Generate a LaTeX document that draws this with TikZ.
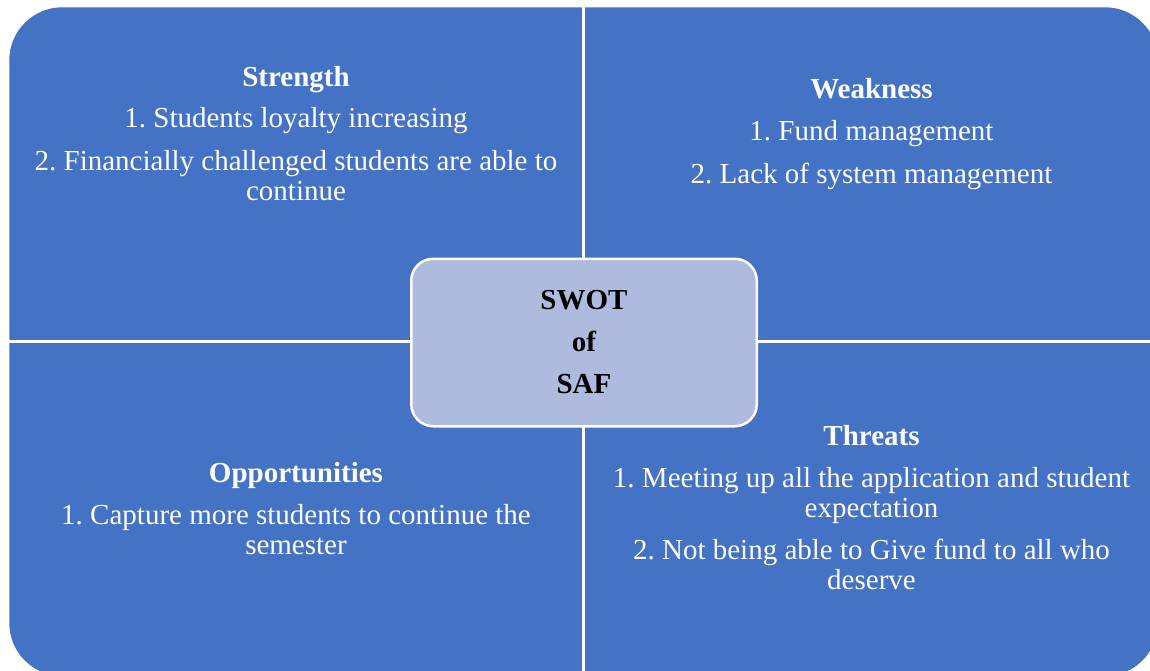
\documentclass[tikz,border=0pt]{standalone}
\usepackage{fontspec}
\setmainfont{Liberation Serif}
\definecolor{swotblue}{RGB}{68,114,196}
\definecolor{swotcenter}{RGB}{174,186,222}
\frenchspacing

\begin{document}
\begin{tikzpicture}[x=1pt,y=-1pt,frame_node/.style={rectangle,fill=swotblue,rounded corners=53pt,minimum width=1148.7pt,minimum height=668.7pt,inner sep=0pt},center_node/.style={rectangle,fill=swotcenter,draw=white,line width=2.5pt,rounded corners=22pt,minimum width=345.5pt,minimum height=167.5pt,inner sep=0pt,align=center,font=\fontsize{29}{42}\selectfont\bfseries},text_node/.style={anchor=north,align=center,text=white,inner sep=0pt,font=\fontsize{29}{30}\selectfont},split_line/.style={draw=white,line width=2.7pt}]
		
		\useasboundingbox (0,0) rectangle (1150,671);
		
		\node[frame_node] (frame) at (583.65,341.65) {};
		
		\draw[split_line] (frame.north) -- (frame.south);
		\draw[split_line] (frame.west) -- (frame.east);
		
		\node[center_node] (swot) at (584,342.5) {SWOT\\of\\SAF};
		
		\node[text_node] (strength) at (296,66.5) {\textbf{Strength}\\[11pt]1. Students loyalty increasing\\[13pt]2. Financially challenged students are able to\\continue};
		\node[text_node] (weakness) at (871.5,78.5) {\textbf{Weakness}\\[12pt]1. Fund management\\[13pt]2. Lack of system management};
		\node[text_node] (opportunities) at (296,462.5) {\textbf{Opportunities}\\[12pt]1. Capture more students to continue the\\semester};
		\node[text_node] (threats) at (871.5,425.5) {\textbf{Threats}\\[12pt]1. Meeting up all the application and student\\expectation\\[12pt]2. Not being able to Give fund to all who\\deserve};
		\end{tikzpicture}
\end{document}
